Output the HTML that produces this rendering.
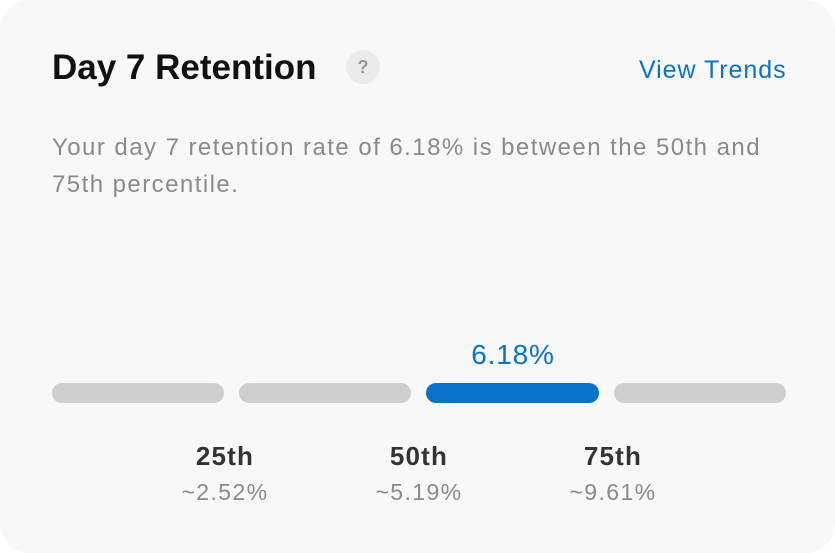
<!DOCTYPE html>
<html><head><meta charset="utf-8"><style>
html,body{margin:0;padding:0;background:#fff;}
body{width:835px;height:553px;position:relative;overflow:hidden;font-family:"Liberation Sans",sans-serif;}
.card{position:absolute;left:0;top:0;width:835px;height:553px;background:#f8f8f8;border-radius:30px;}
.t{position:absolute;white-space:nowrap;}
.bar{position:absolute;top:383px;height:20px;border-radius:10px;background:#cfcfcf;}
.c{transform:translateX(-50%);text-align:center;}
</style></head><body>
<div class="card"></div>
<div class="t" style="left:52px;top:48px;font-size:35px;font-weight:bold;color:#111;">Day 7 Retention</div>
<div class="t" style="left:346px;top:50px;width:34px;height:34px;border-radius:17px;background:#ebebeb;color:#999;font-size:18px;font-weight:bold;text-align:center;line-height:34px;">?</div>
<div class="t" style="left:639px;top:56px;font-size:25px;letter-spacing:0.95px;color:#0a72c9;">View Trends</div>
<div class="t" style="left:52px;top:129px;font-size:24px;letter-spacing:1.45px;color:#8a8a8a;line-height:37px;">Your day 7 retention rate of 6.18% is between the 50th and<br>75th percentile.</div>
<div class="t c" style="left:513px;top:339px;font-size:28px;letter-spacing:0.8px;color:#0a72c9;">6.18%</div>
<div class="bar" style="left:52px;width:172px;"></div>
<div class="bar" style="left:239px;width:172px;"></div>
<div class="bar" style="left:426px;width:173px;background:#0a72c9;"></div>
<div class="bar" style="left:614px;width:172px;"></div>
<div class="t c" style="left:225px;top:441px;font-size:26px;letter-spacing:1.2px;font-weight:bold;color:#333;">25th</div>
<div class="t c" style="left:419px;top:441px;font-size:26px;letter-spacing:1.2px;font-weight:bold;color:#333;">50th</div>
<div class="t c" style="left:613px;top:441px;font-size:26px;letter-spacing:1.2px;font-weight:bold;color:#333;">75th</div>
<div class="t c" style="left:225px;top:479px;font-size:23px;letter-spacing:1.4px;color:#8a8a8a;">~2.52%</div>
<div class="t c" style="left:419px;top:479px;font-size:23px;letter-spacing:1.4px;color:#8a8a8a;">~5.19%</div>
<div class="t c" style="left:613px;top:479px;font-size:23px;letter-spacing:1.4px;color:#8a8a8a;">~9.61%</div>
</body></html>
